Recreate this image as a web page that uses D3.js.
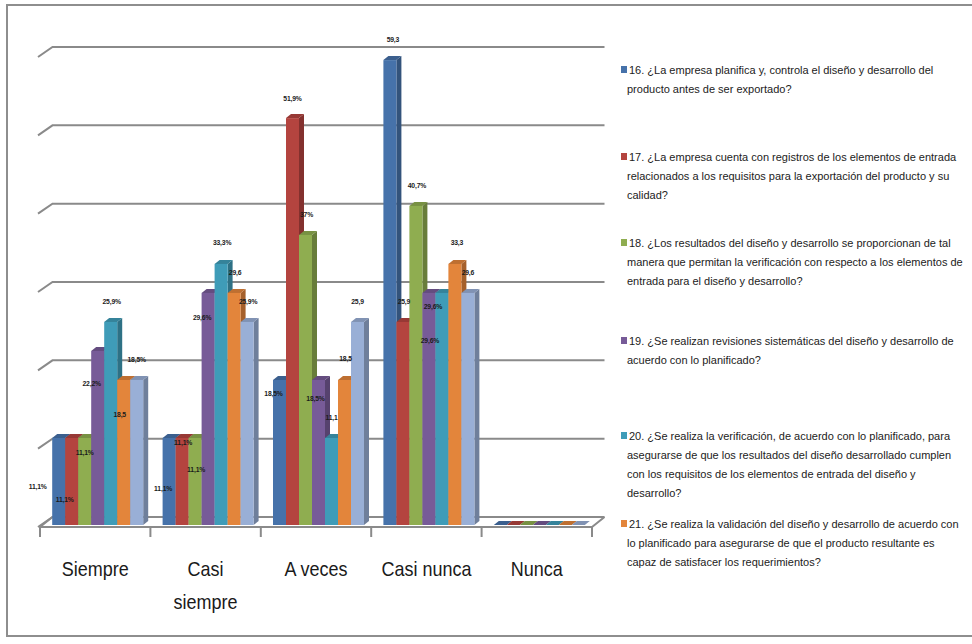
<!DOCTYPE html>
<html>
<head>
<meta charset="utf-8">
<script src="https://cdn.jsdelivr.net/npm/d3@7"></script>
<style>
  body { margin: 0; background: #fff; }
  svg { display: block; }
</style>
</head>
<body>
<div id="chart"></div>
<script>
const categories = ["Siempre", "Casi siempre", "A veces", "Casi nunca", "Nunca"];
const categoryLines = [["Siempre"], ["Casi", "siempre"], ["A veces"], ["Casi nunca"], ["Nunca"]];

const seriesKeys = ["16", "17", "18", "19", "20", "21", "22"];
const seriesColors = ["#4672aa", "#b4443f", "#8fad50", "#775b98", "#3f9cb8", "#e3853b", "#99afd6"];

const values16 = [11.1, 11.1, 18.5, 59.3, 0];
const values17 = [11.1, 11.1, 51.9, 25.9, 0];
const values18 = [11.1, 11.1, 37, 40.7, 0];
const values19 = [22.2, 29.6, 18.5, 29.6, 0];
const values20 = [25.9, 33.3, 11.1, 29.6, 0];
const values21 = [18.5, 29.6, 18.5, 33.3, 0];
const values22 = [18.5, 25.9, 25.9, 29.6, 0];
const allValues = [values16, values17, values18, values19, values20, values21, values22];

const labels16 = ["11,1%", "11,1%", "18,5%", "59,3", ""];
const labels17 = ["11,1%", "11,1%", "51,9%", "25,9", ""];
const labels18 = ["11,1%", "11,1%", "37%", "40,7%", ""];
const labels19 = ["22,2%", "29,6%", "18,5%", "29,6%", ""];
const labels20 = ["25,9%", "33,3%", "11,1", "29,6%", ""];
const labels21 = ["18,5", "29,6", "18,5", "33,3", ""];
const labels22 = ["18,5%", "25,9%", "25,9", "29,6", ""];
const allLabels = [labels16, labels17, labels18, labels19, labels20, labels21, labels22];

// legend texts, already broken into lines like the original
const legendLines = [
  ["16.  ¿La empresa planifica y, controla el diseño y desarrollo del",
   "producto antes de ser exportado?"],
  ["17.  ¿La empresa cuenta con registros de los elementos de entrada",
   "relacionados a los requisitos para la exportación del producto y su",
   "calidad?"],
  ["18.  ¿Los resultados del diseño y desarrollo se proporcionan de tal",
   "manera que permitan la verificación con respecto a los elementos de",
   "entrada para el diseño y desarrollo?"],
  ["19.  ¿Se realizan revisiones sistemáticas del diseño y desarrollo de",
   "acuerdo con lo planificado?"],
  ["20.  ¿Se realiza la verificación, de acuerdo con lo planificado, para",
   "asegurarse de que los resultados del diseño desarrollado cumplen",
   "con los requisitos de los elementos de entrada del diseño y",
   "desarrollo?"],
  ["21.  ¿Se realiza la validación del diseño y desarrollo de acuerdo con",
   "lo planificado para asegurarse de que el producto resultante es",
   "capaz de satisfacer los requerimientos?"]
];

// layout: where the excel labels ended up, relative to the top of each bar
const labelShift = [
  [[-21, 49], [-6, 51], [-6, 14], [3, -20]],
  [[-7, 62], [1, 5], [0, -19], [1, -20]],
  [[0, 15], [1, 32], [1, -20], [1, -20]],
  [[-6, 33], [-6, 25], [-3, 19], [4, 14]],
  [[1, -20], [1, -21], [0, -20], [-12, 48]],
  [[-4, 35], [1, -20], [1, -21], [2, -21]],
  [[0, -20], [1, -20], [0, -20], [0, -20]]
];
const legendTop = [70, 157, 243, 341, 436, 524];

const W = 972, H = 644;
const depth = { x: 12.5, y: -10 };   // floor / wall depth
const barDepth = { x: 5, y: -4 };

const svg = d3.select("#chart").append("svg")
  .attr("width", W).attr("height", H)
  .style("font-family", "'Liberation Sans', Arial, sans-serif");

// frame
svg.append("rect")
  .attr("x", 7).attr("y", 5)
  .attr("width", 990).attr("height", 631)
  .attr("fill", "none").attr("stroke", "#8e8e8e").attr("stroke-width", 2);

const xScale = d3.scaleBand().domain(categories).range([40, 592]);
const inner = d3.scaleBand().domain(d3.range(seriesKeys.length)).range([12.2, 103.2]);
const yFront = d3.scaleLinear().domain([0, 60]).range([525, 54.6]);
const yWall = d3.scaleLinear().domain([0, 60]).range([517, 47]);

const floorY = 527;
const grid = svg.append("g").attr("stroke", "#8a8a8a").attr("stroke-width", 2).attr("fill", "none");

// back wall gridlines with their little left edge
yWall.ticks(6).forEach((t) => {
  const y = yWall(t);
  const x0 = xScale.range()[0];
  grid.append("path")
    .attr("d", `M${x0 - 2},${y - depth.y}L${x0 + depth.x},${y}H${xScale.range()[1] + depth.x}`);
});

// floor
const fx0 = xScale.range()[0], fx1 = xScale.range()[1];
grid.append("path")
  .attr("d", `M${fx0},${floorY}L${fx0 + depth.x},${floorY + depth.y}M${fx0},${floorY}H${fx1}L${fx1 + depth.x},${floorY + depth.y}`);
const tickXs = categories.map((c) => xScale(c)).concat([fx1]);
tickXs.forEach((x) => {
  grid.append("line").attr("x1", x).attr("x2", x).attr("y1", floorY).attr("y2", floorY + 10);
});

// bars, drawn left to right so each front hides the side of the previous one
const bars = svg.append("g");
categories.forEach((cat, ci) => {
  seriesKeys.forEach((key, si) => {
    const v = allValues[si][ci];
    const col = d3.color(seriesColors[si]);
    const x = xScale(cat) + inner(si);
    const w = inner.bandwidth();
    const y0 = yFront(0), y1 = yFront(v);
    const dx = barDepth.x, dy = barDepth.y;
    const g = bars.append("g");
    // side
    g.append("path")
      .attr("d", `M${x + w},${y0}L${x + w + dx},${y0 + dy}V${y1 + dy}L${x + w},${y1}Z`)
      .attr("fill", col.darker(0.9));
    // top
    g.append("path")
      .attr("d", `M${x},${y1}L${x + dx},${y1 + dy}H${x + w + dx}L${x + w},${y1}Z`)
      .attr("fill", col.darker(0.5));
    // front
    g.append("rect")
      .attr("x", x).attr("y", y1)
      .attr("width", w).attr("height", y0 - y1)
      .attr("fill", col.toString());
  });
});

// data labels
const lab = svg.append("g")
  .attr("font-size", 8)
  .attr("font-weight", "bold")
  .attr("fill", "#1b1b1b")
  .attr("text-anchor", "middle")
  .attr("dominant-baseline", "middle");
categories.forEach((cat, ci) => {
  seriesKeys.forEach((key, si) => {
    const txt = allLabels[si][ci];
    if (!txt) return;
    const shift = labelShift[si][ci];
    const cx = xScale(cat) + inner(si) + inner.bandwidth() / 2;
    const cy = yFront(allValues[si][ci]);
    lab.append("text")
      .attr("transform", `translate(${cx + shift[0]},${cy + shift[1]}) scale(0.85,1)`)
      .style("letter-spacing", "-0.2px")
      .text(txt);
  });
});

// category labels
const catG = svg.append("g")
  .attr("font-size", 20)
  .attr("fill", "#1a1a1a")
  .attr("text-anchor", "middle");
categories.forEach((cat, ci) => {
  const cx = xScale(cat) + xScale.bandwidth() / 2;
  categoryLines[ci].forEach((line, li) => {
    catG.append("text")
      .attr("transform", `translate(${cx},${576 + li * 33}) scale(0.9,1)`)
      .text(line);
  });
});

// legend
const leg = svg.append("g").attr("font-size", 11).attr("fill", "#222");
legendLines.forEach((lines, i) => {
  const top = legendTop[i];
  leg.append("rect")
    .attr("x", 621).attr("y", top - 4)
    .attr("width", 6).attr("height", 7)
    .attr("fill", seriesColors[i]);
  lines.forEach((line, li) => {
    leg.append("text")
      .attr("transform", `translate(${li === 0 ? 629 : 627},${top + 4 + li * 19}) scale(1,1)`)
      .text(line);
  });
});
</script>
</body>
</html>
